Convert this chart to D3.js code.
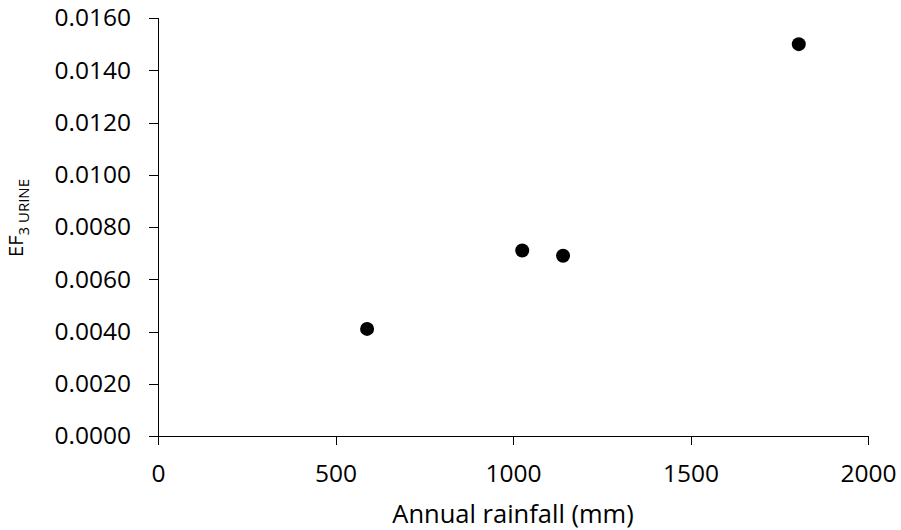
<!DOCTYPE html>
<meta charset="utf-8">
<style>
body { margin:0; background:#fff; }
text { font-family: "Open Sans", sans-serif; fill:#000; }
.axis path, .axis line { stroke:#000; stroke-width:1px; shape-rendering:crispEdges; }
.axis text { font-size:24.5px; font-family:"Open Sans", sans-serif; }
</style>
<body>
<script src="https://d3js.org/d3.v7.min.js"></script>
<script>

var rainfall = [589, 1026, 1141, 1805];
var ef3 = [0.0041, 0.0071, 0.0069, 0.0150];
var xTicks = [0, 500, 1000, 1500, 2000];
var yTicks = [0, 0.002, 0.004, 0.006, 0.008, 0.010, 0.012, 0.014, 0.016];

var width = 901, height = 530;
var margin = {top:18, right:33, bottom:94, left:158};

var svg = d3.select("body").append("svg").attr("width", width).attr("height", height);

var x = d3.scaleLinear().domain([0, 2000]).range([margin.left, width - margin.right]);
var y = d3.scaleLinear().domain([0, 0.016]).range([height - margin.bottom, margin.top]);

svg.append("g").attr("class","axis")
	.attr("transform","translate(0," + (height - margin.bottom) + ")")
	.call(d3.axisBottom(x).tickValues(xTicks).tickSize(9).tickSizeOuter(9).tickPadding(20).tickFormat(d3.format("d")));

svg.append("g").attr("class","axis")
	.attr("transform","translate(" + margin.left + ",0)")
	.call(d3.axisLeft(y).tickValues(yTicks).tickSize(9).tickSizeOuter(9).tickPadding(18).tickFormat(d3.format(".4f")));

svg.selectAll(".dot")
	.data(rainfall.map((r,i) => [r, ef3[i]]))
	.enter().append("circle")
	.attr("class","dot")
	.attr("cx", d => x(d[0]))
	.attr("cy", d => y(d[1]))
	.attr("r", 7)
	.attr("fill","#000");

svg.append("text")
	.attr("x", (x(0) + x(2000)) / 2)
	.attr("y", 523)
	.attr("text-anchor","middle")
	.style("font-size","25.5px")
	.text("Annual rainfall (mm)");

var yl = svg.append("text")
	.attr("transform","translate(23," + 218 + ") rotate(-90)")
	.attr("text-anchor","middle")
	.style("font-size","20px");
yl.append("tspan").text("EF");
yl.append("tspan").attr("dy", 6).style("font-size","15px").text("3 URINE");

</script>
</body>
